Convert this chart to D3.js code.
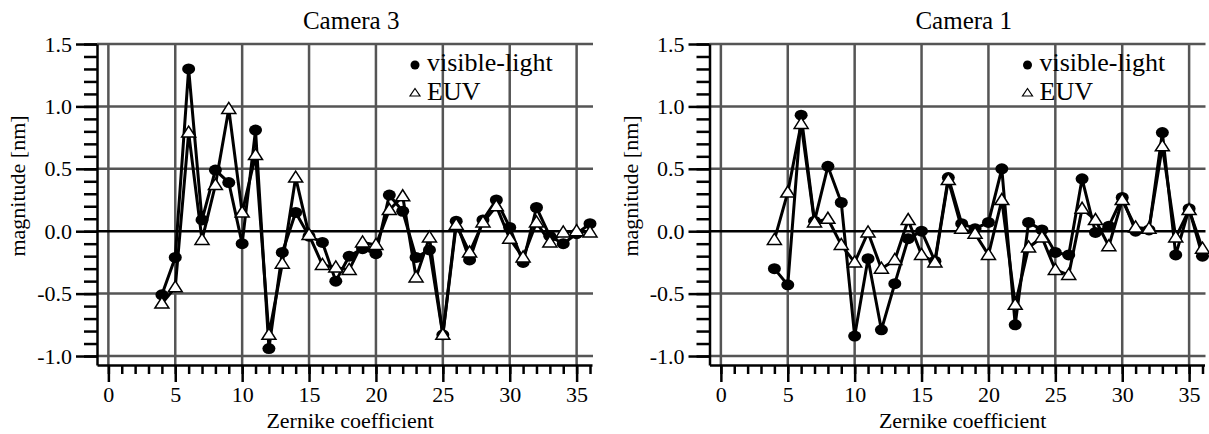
<!DOCTYPE html>
<html lang="en">
<head>
    <meta charset="UTF-8">
    <title>Zernike coefficients - Camera 3 / Camera 1</title>
    <script src="https://d3js.org/d3.v7.min.js"></script>
    <style>
        body {
            margin: 0;
            padding: 0;
            background: #fff;
        }
        svg text {
            font-family: "Liberation Serif", "Times New Roman", Times, serif;
            fill: #000;
        }
    </style>
</head>
<body>
    <svg id="chart"></svg>

    <script>
        // Zernike coefficient index (x)
        const coefficients = [4, 5, 6, 7, 8, 9, 10, 11, 12, 13, 14, 15, 16, 17, 18, 19, 20,
            21, 22, 23, 24, 25, 26, 27, 28, 29, 30, 31, 32, 33, 34, 35, 36];

        // Camera 3 magnitudes [nm]
        const cam3Visible = [-0.51, -0.21, 1.30, 0.09, 0.49, 0.39, -0.10, 0.81, -0.94, -0.17, 0.15,
            -0.04, -0.09, -0.40, -0.20, -0.14, -0.18, 0.29, 0.16, -0.21, -0.15, -0.83, 0.08, -0.23,
            0.09, 0.25, 0.03, -0.25, 0.19, -0.04, -0.10, -0.02, 0.06];
        const cam3Euv = [-0.58, -0.45, 0.79, -0.07, 0.37, 0.98, 0.15, 0.61, -0.83, -0.26, 0.43,
            -0.03, -0.27, -0.29, -0.31, -0.09, -0.11, 0.17, 0.28, -0.37, -0.05, -0.83, 0.05, -0.17,
            0.07, 0.20, -0.06, -0.21, 0.07, -0.09, -0.01, 0.00, -0.01];

        // Camera 1 magnitudes [nm]
        const cam1Visible = [-0.30, -0.43, 0.93, 0.08, 0.52, 0.23, -0.84, -0.22, -0.79, -0.42, -0.06,
            0.00, -0.24, 0.43, 0.06, 0.02, 0.07, 0.50, -0.75, 0.07, 0.01, -0.17, -0.19, 0.42,
            -0.01, 0.04, 0.27, 0.00, 0.01, 0.79, -0.19, 0.18, -0.20];
        const cam1Euv = [-0.07, 0.31, 0.86, 0.07, 0.10, -0.11, -0.25, -0.01, -0.30, -0.23, 0.09,
            -0.19, -0.25, 0.41, 0.02, -0.02, -0.19, 0.25, -0.59, -0.13, -0.05, -0.31, -0.35, 0.18,
            0.09, -0.12, 0.25, 0.03, 0.02, 0.68, -0.05, 0.17, -0.14];

        // tick labels / gridlines
        const xMajorTicks = [0, 5, 10, 15, 20, 25, 30, 35];
        const yMajorTicks = [-1.0, -0.5, 0.0, 0.5, 1.0, 1.5];
        const yGridValues = [-1.0, -0.5, 0.5, 1.0, 1.5];

        const width = 1209, height = 434;
        const plotW = 495, plotTop = 44, plotBottom = 365;
        const gridColor = "#555";
        const serif = "'Liberation Serif', 'Times New Roman', Times, serif";

        const svg = d3.select("#chart")
            .attr("width", width)
            .attr("height", height);

        const trianglePath = "M0,-6.5L7,4.5L-7,4.5Z";

        function drawPanel(left, title, vis, euv) {
            const x = d3.scaleLinear().domain([-0.85, 36.15]).range([left, left + plotW]);
            const y = d3.scaleLinear().domain([-1.072, 1.5]).range([plotBottom, plotTop]);
            const g = svg.append("g");

            // gridlines
            g.selectAll(".hgrid").data(yGridValues).enter().append("line")
                .attr("x1", left).attr("x2", left + plotW + 1)
                .attr("y1", d => y(d)).attr("y2", d => y(d))
                .attr("stroke", gridColor).attr("stroke-width", 2.5);
            g.selectAll(".vgrid").data(xMajorTicks).enter().append("line")
                .attr("x1", d => x(d)).attr("x2", d => x(d))
                .attr("y1", y(1.5)).attr("y2", plotBottom)
                .attr("stroke", gridColor).attr("stroke-width", 2.5);
            // zero line
            g.append("line")
                .attr("x1", left).attr("x2", left + plotW + 1)
                .attr("y1", y(0)).attr("y2", y(0))
                .attr("stroke", "#000").attr("stroke-width", 2.5);

            // y axis: minor then major
            g.append("g")
                .attr("transform", `translate(${left},0)`)
                .call(d3.axisLeft(y).tickValues(y.ticks(25)).tickSize(13).tickSizeOuter(0).tickFormat(""))
                .call(a => a.select(".domain").remove());
            g.append("g")
                .attr("transform", `translate(${left},0)`)
                .call(d3.axisLeft(y).tickValues(yMajorTicks).tickSize(21).tickSizeOuter(0)
                    .tickPadding(4).tickFormat(d => d.toFixed(1)));

            // x axis: minor then major
            g.append("g")
                .attr("transform", `translate(0,${plotBottom})`)
                .call(d3.axisBottom(x).tickValues(x.ticks(37)).tickSize(9).tickSizeOuter(0).tickFormat(""))
                .call(a => a.select(".domain").remove());
            g.append("g")
                .attr("transform", `translate(0,${plotBottom})`)
                .call(d3.axisBottom(x).tickValues(xMajorTicks).tickSize(17).tickSizeOuter(0).tickPadding(4));

            g.selectAll("g").attr("font-family", serif);
            g.selectAll(".tick line, .domain")
                .attr("stroke", "#000").attr("stroke-width", 2.5);
            g.selectAll(".tick text")
                .attr("font-size", 22)
                .attr("fill", "#000");

            // series
            const line = d3.line().x((d, i) => x(coefficients[i])).y(d => y(d));

            g.append("path").datum(vis)
                .attr("d", line).attr("fill", "none")
                .attr("stroke", "#000").attr("stroke-width", 3);
            g.selectAll(".vis").data(vis).enter().append("ellipse")
                .attr("cx", (d, i) => x(coefficients[i])).attr("cy", d => y(d))
                .attr("rx", 6.5).attr("ry", 5.5).attr("fill", "#000");

            g.append("path").datum(euv)
                .attr("d", line).attr("fill", "none")
                .attr("stroke", "#000").attr("stroke-width", 3);
            g.selectAll(".euv").data(euv).enter().append("path")
                .attr("d", trianglePath)
                .attr("transform", (d, i) => `translate(${x(coefficients[i])},${y(d)})`)
                .attr("fill", "#fff").attr("stroke", "#000").attr("stroke-width", 1.5);

            // titles
            g.append("text")
                .attr("x", x(18) + 2).attr("y", 29)
                .attr("text-anchor", "middle").style("font-size", "25px")
                .text(title);
            g.append("text")
                .attr("x", x(18) + 1).attr("y", 428)
                .attr("text-anchor", "middle").style("font-size", "22px")
                .text("Zernike coefficient");
            g.append("text")
                .attr("transform", `translate(${left - 72},186) rotate(-90)`)
                .attr("text-anchor", "middle").style("font-size", "22px")
                .text("magnitude [nm]");

            // legend
            const lg = g.append("g").attr("transform", `translate(${left + 318},0)`);
            lg.append("circle").attr("cx", 0).attr("cy", 65).attr("r", 4.5).attr("fill", "#000");
            lg.append("text").attr("x", 12).attr("y", 71).style("font-size", "26px").text("visible-light");
            lg.append("path").attr("d", "M0,-4.5L5,3L-5,3Z")
                .attr("transform", "translate(0,93)")
                .attr("fill", "#fff").attr("stroke", "#000").attr("stroke-width", 1.2);
            lg.append("text").attr("x", 12).attr("y", 100).style("font-size", "26px").text("EUV");
        }

        drawPanel(97, "Camera 3", cam3Visible, cam3Euv);
        drawPanel(709.5, "Camera 1", cam1Visible, cam1Euv);
    </script>
</body>
</html>
